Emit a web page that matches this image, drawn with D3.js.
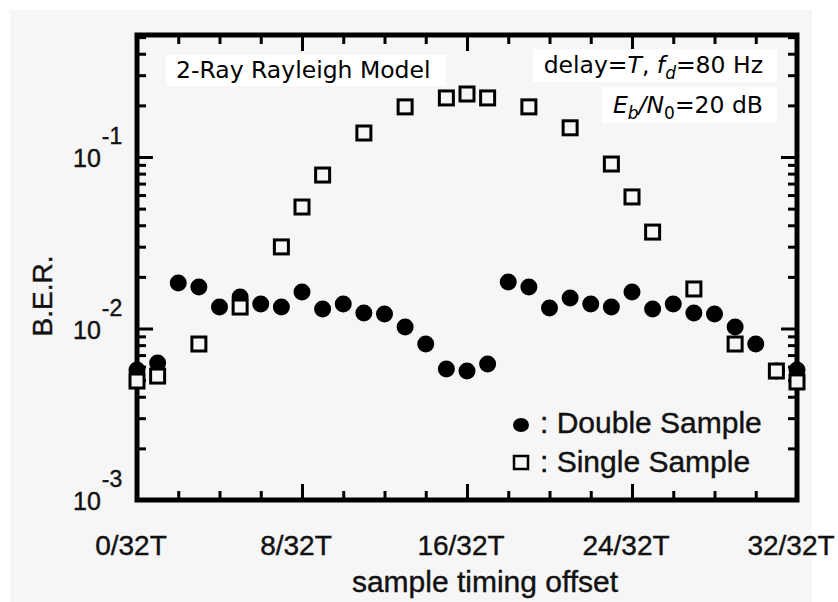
<!DOCTYPE html>
<html><head><meta charset="utf-8">
<script src="https://cdn.jsdelivr.net/npm/d3@7"></script>
<style>
html,body{margin:0;padding:0;background:#fff;}
svg{display:block;}
</style>
</head><body>
<svg id="c" width="838" height="602"></svg>
<script>
// ---- data ----
const doubleX = [0,1,2,3,4,5,6,7,8,9,10,11,12,13,14,15,16,17,18,19,20,21,22,23,24,25,26,27,28,29,30,31,32];
const doubleBER = [0.00573,0.00629,0.0184,0.01746,0.01334,0.01527,0.0139,0.01334,0.01633,0.0130,0.0139,0.0123,0.01216,0.0102,0.00812,0.00580,0.00565,0.00621,0.01867,0.01746,0.01318,0.01507,0.0139,0.01334,0.01633,0.0130,0.0139,0.0123,0.01216,0.0102,0.00812,0.00565,0.00573];
const singleX = [0,1,3,5,7,8,9,11,13,15,16,17,19,21,23,24,25,27,29,31,32];
const singleBER = [0.00494,0.00528,0.00812,0.01334,0.0299,0.0511,0.0785,0.138,0.196,0.221,0.233,0.221,0.196,0.148,0.091,0.0585,0.0365,0.0170,0.00812,0.00565,0.00488];
const xMajorTicks = [0,8,16,24,32];
const xTickLabels = ["0/32T","8/32T","16/32T","24/32T","32/32T"];
const yDecades = [1e-3,1e-2,1e-1];
const yTickExponents = ["-3","-2","-1"];
const legendLabels = [": Double Sample", ": Single Sample"];

// ---- layout ----
const svg = d3.select("#c");
const L=137, R=797, T=35, B=500;
const x = d3.scaleLinear().domain([0,32]).range([L,R]);
const y = d3.scaleLog().domain([1e-3, Math.pow(10,-0.2886)]).range([B,T]);
const bg = "#f6f6f6";

svg.append("rect").attr("x",10).attr("y",10).attr("width",802).attr("height",592).attr("fill",bg);

// minor ticks
const xMinor = d3.range(0,33,2).filter(v=>v%8!==0);
const yMinor = [];
[1e-3,1e-2,1e-1].forEach(d=>{for(let k=2;k<=9;k++){const v=d*k; if(v<=y.domain()[1]) yMinor.push(v);}});

function styleAxis(g){
  g.select(".domain").remove();
  g.selectAll(".tick line").attr("stroke","#000").attr("stroke-width",3);
}
const minorLen=9, majorLen=16;
svg.append("g").attr("transform",`translate(0,${B})`).call(d3.axisBottom(x).tickValues(xMinor).tickSize(-minorLen).tickFormat("")).call(styleAxis);
svg.append("g").attr("transform",`translate(0,${B})`).call(d3.axisBottom(x).tickValues(xMajorTicks).tickSize(-majorLen).tickFormat("")).call(styleAxis);
svg.append("g").attr("transform",`translate(0,${T})`).call(d3.axisTop(x).tickValues(xMinor).tickSize(-minorLen).tickFormat("")).call(styleAxis);
svg.append("g").attr("transform",`translate(0,${T})`).call(d3.axisTop(x).tickValues(xMajorTicks).tickSize(-majorLen).tickFormat("")).call(styleAxis);
svg.append("g").attr("transform",`translate(${L},0)`).call(d3.axisLeft(y).tickValues(yMinor).tickSize(-minorLen).tickFormat("")).call(styleAxis);
svg.append("g").attr("transform",`translate(${L},0)`).call(d3.axisLeft(y).tickValues(yDecades).tickSize(-majorLen).tickFormat("")).call(styleAxis);
svg.append("g").attr("transform",`translate(${R},0)`).call(d3.axisRight(y).tickValues(yMinor).tickSize(-minorLen).tickFormat("")).call(styleAxis);
svg.append("g").attr("transform",`translate(${R},0)`).call(d3.axisRight(y).tickValues(yDecades).tickSize(-majorLen).tickFormat("")).call(styleAxis);

// frame
svg.append("rect").attr("x",L).attr("y",T).attr("width",R-L).attr("height",B-T)
  .attr("fill","none").attr("stroke","#000").attr("stroke-width",5);

const axisFont = "'Liberation Sans', Arial, Helvetica, sans-serif";
function heavy(sel){ return sel.attr("fill","#111").attr("stroke","#111").attr("stroke-width",0.4); }
// x tick labels
svg.append("g").selectAll("text").data(xMajorTicks).join("text")
  .attr("x",d=>x(d)-6).attr("y",555).attr("text-anchor","middle")
  .attr("font-family",axisFont).attr("font-size",28).call(heavy)
  .text((d,i)=>xTickLabels[i]);
// y tick labels
const yl = svg.append("g").selectAll("text").data(yDecades).join("text")
  .attr("x",73).attr("y",d=>y(d)+10)
  .attr("font-family",axisFont).call(heavy);
yl.append("tspan").attr("font-size",25).text("10");
yl.append("tspan").attr("font-size",23).attr("dx",1).attr("dy",-23).text((d,i)=>yTickExponents[i]);

// axis titles
svg.append("text").attr("x",485).attr("y",592).attr("text-anchor","middle")
  .attr("font-family",axisFont).attr("font-size",30).call(heavy).text("sample timing offset");
svg.append("text").attr("transform","translate(52,296) rotate(-90)").attr("text-anchor","middle")
  .attr("font-family",axisFont).attr("font-size",28).call(heavy).text("B.E.R.");

// data marks
svg.append("g").selectAll("circle").data(doubleX).join("circle")
  .attr("cx",d=>x(d)).attr("cy",(d,i)=>y(doubleBER[i])).attr("r",8.5).attr("fill","#000");
const sq=14;
svg.append("g").selectAll("rect").data(singleX).join("rect")
  .attr("x",d=>x(d)-sq/2).attr("y",(d,i)=>y(singleBER[i])-sq/2).attr("width",sq).attr("height",sq)
  .attr("fill",bg).attr("stroke","#000").attr("stroke-width",3);

// legend
svg.append("ellipse").attr("cx",521).attr("cy",425).attr("rx",8).attr("ry",7).attr("fill","#000");
svg.append("rect").attr("x",514).attr("y",456).attr("width",14).attr("height",13).attr("fill",bg).attr("stroke","#000").attr("stroke-width",2.5);
svg.append("g").selectAll("text").data(legendLabels).join("text")
  .attr("x",540).attr("y",(d,i)=>433+i*39)
  .attr("font-family",axisFont).attr("font-size",30).call(heavy).text(d=>d);

// annotation boxes
const annFont = "'DejaVu Sans', Verdana, sans-serif";
svg.append("rect").attr("x",166).attr("y",55).attr("width",280).attr("height",31).attr("fill","#fff");
svg.append("rect").attr("x",533).attr("y",49).attr("width",244).attr("height",33).attr("fill","#fff");
svg.append("rect").attr("x",602).attr("y",87).attr("width",175).attr("height",36).attr("fill","#fff");
svg.append("text").attr("x",176).attr("y",78).attr("font-family",annFont).attr("font-size",23.5).attr("fill","#000")
  .text("2-Ray Rayleigh Model");
const t1 = svg.append("text").attr("x",763).attr("y",73).attr("text-anchor","end")
  .attr("font-family",annFont).attr("font-size",23.5).attr("fill","#000");
t1.append("tspan").text("delay=");
t1.append("tspan").attr("font-style","italic").text("T");
t1.append("tspan").text(", ");
t1.append("tspan").attr("font-style","italic").text("f");
t1.append("tspan").attr("font-style","italic").attr("font-size",17).attr("dy",6).text("d");
t1.append("tspan").attr("dy",-6).text("=80 Hz");
const t2 = svg.append("text").attr("x",763).attr("y",113).attr("text-anchor","end")
  .attr("font-family",annFont).attr("font-size",23.5).attr("fill","#000");
t2.append("tspan").attr("font-style","italic").text("E");
t2.append("tspan").attr("font-style","italic").attr("font-size",17).attr("dy",6).text("b");
t2.append("tspan").attr("font-style","italic").attr("dy",-6).text("/N");
t2.append("tspan").attr("font-size",17).attr("dy",6).text("0");
t2.append("tspan").attr("dy",-6).text("=20 dB");
</script>
</body></html>
